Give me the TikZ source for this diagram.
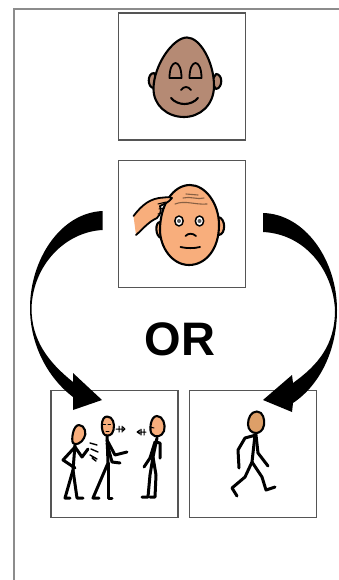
\documentclass[tikz,border=0pt]{standalone}
\usepackage{fontspec}
\setmainfont{Liberation Sans}
\definecolor{skinA}{HTML}{B58A74}
\definecolor{skinB}{HTML}{F8AE7C}
\definecolor{skinC}{HTML}{DD9F68}
\definecolor{frameG}{HTML}{8C8C8C}
\definecolor{boxG}{HTML}{555555}
\tikzset{
  card/.style={draw=boxG,line width=1.7pt,fill=white,minimum width=127pt,minimum height=127pt,inner sep=0pt,outer sep=0pt},
  ink/.style={draw=black,line width=2.1pt,line cap=round,line join=round},
  limb/.style={draw=black,line width=3pt,line cap=round,line join=round},
  fine/.style={draw=black,line width=1pt,line cap=round},
  wrinkle/.style={draw=skinB!55!black,line width=1.1pt,line cap=round},
  page/.style={draw=frameG,line width=1.6pt},
  bigarrow/.style={fill=black,draw=none},
  wordor/.style={font=\bfseries\fontsize{47}{47}\selectfont,inner sep=0pt}
}
\begin{document}
\begin{tikzpicture}[x=1pt,y=-1pt]
\useasboundingbox (0,0) rectangle (339,580);
\fill[white] (0,0) rectangle (339,580);
\coordinate (ftl) at (14,9);
\coordinate (ftr) at (339,9);
\coordinate (fbl) at (14,580);
\draw[page] (ftr) -- (ftl) -- (fbl);
\node[card] (calm) at (182,76.5) {};
\node[card] (think) at (182,224) {};
\node[card] (people) at (114.5,454) {};
\node[card] (walk) at (253,454) {};
\node[wordor] (or) at (180,339) {OR};
% calm face
\draw[ink,fill=skinA] (154,73) .. controls (147,73) and (147,88) .. (154,88) -- (158,80) -- cycle;
\draw[ink,fill=skinA] (216,74) .. controls (223,74) and (223,88) .. (216,89) -- (211,82) -- cycle;
\draw[ink,fill=skinA] (187,37.5) .. controls (200,37.5) and (214,62) .. (214,86)
  .. controls (214,105) and (200,117) .. (184,117) .. controls (167,117) and (153,105) .. (153.5,88)
  .. controls (154,65) and (173,37.5) .. (187,37.5) -- cycle;
\draw[ink,line width=1.8pt] (169.5,78) .. controls (169.5,58) and (181.5,58) .. (181.5,78) -- cycle;
\draw[ink,line width=1.8pt] (189.5,78) .. controls (189.5,58) and (201.5,58) .. (201.5,78) -- cycle;
\draw[ink,line width=1.8pt] (181,90) .. controls (184,86) and (188,86) .. (191,90);
\draw[ink] (171,98) .. controls (178,106) and (191,106) .. (198,98);
% thinking face
\draw[ink,fill=skinB] (160,222) .. controls (155,222) and (155,236) .. (161,238) -- (165,230) -- cycle;
\draw[ink,fill=skinB] (218,217) .. controls (226,218) and (226,234) .. (219,235) -- (214,226) -- cycle;
\draw[ink,fill=skinB] (190,185) .. controls (205,185) and (219,203) .. (219,225)
  .. controls (219,250) and (205,265) .. (189,265) .. controls (172,265) and (160,247) .. (160,230)
  .. controls (160,205) and (173,185) .. (190,185) -- cycle;
\fill[skinB] (133.5,216) .. controls (142,205) and (150,198) .. (164,197.5)
  .. controls (168,197) and (171,197) .. (172,198) .. controls (168,203) and (164,204) .. (160,206)
  .. controls (162,212) and (160,214) .. (157,218) .. controls (148,222) and (142,230) .. (136,235) -- cycle;
\draw[ink,line width=1.8pt] (133.5,216) .. controls (142,205) and (150,198) .. (164,197.5)
  .. controls (168,197) and (171,197) .. (172,198) .. controls (168,203) and (164,204) .. (160,206)
  .. controls (162,212) and (160,214) .. (157,218) .. controls (148,222) and (142,230) .. (136,235);
\draw[fine] (158,204) -- (166,202) (159,209) -- (164,208) (158,214) -- (162,213);
\draw[wrinkle] (175,204) .. controls (185,200) and (195,205) .. (207,204);
\draw[wrinkle] (183,198) .. controls (190,196) and (198,200) .. (204,198);
\draw[wrinkle] (186,194) -- (198,195);
\draw[ink,line width=1.5pt,fill=white] (179,221) ellipse (4.2pt and 5pt);
\draw[ink,line width=1.5pt,fill=white] (199.5,221) ellipse (4.2pt and 5pt);
\fill[black!65] (179,221) circle (2pt) (199.5,221) circle (2pt);
\draw[ink,line width=1.8pt] (185.5,236) .. controls (188,233) and (193,233) .. (196,236);
\draw[ink,line width=1.8pt] (180.5,247) .. controls (187,248.5) and (194,248.5) .. (200,247);
% three people
\draw[limb] (75,445) -- (73,470) -- (65,498) -- (70,498);
\draw[limb] (73,470) -- (77,498) -- (83,498);
\draw[limb] (75,447) -- (63,460) -- (75,468);
\draw[limb] (75,447) -- (82,457) -- (88,449);
\draw[ink,fill=skinB] (79,425) .. controls (85,425) and (87,434) .. (84,438) .. controls (82,443) and (75,446) .. (73,443) .. controls (71,440) and (73,425) .. (79,425) -- cycle;
\draw[fine,line width=1.4pt] (90,443) -- (97,445) (91,449) -- (98,452) (90,455) -- (97,459) (92,458) -- (96,461);
\draw[limb] (107,435) -- (108,463) -- (93,498) -- (99,498);
\draw[limb] (108,463) -- (108,498) -- (112,498);
\draw[limb] (107,440) -- (115,455) -- (127,452);
\draw[limb] (107,443) -- (112,462) -- (120,463);
\draw[ink,fill=skinB] (107,416.5) .. controls (113,416.5) and (115,424) .. (113.5,430) .. controls (112,436) and (108,436) .. (105,435) .. controls (101,433) and (100,416.5) .. (107,416.5) -- cycle;
\draw[fine] (103,424) -- (105.5,424) (108,424) -- (110.5,424) (106,431) -- (109,431);
\draw[fine] (116,429) -- (125,429) (119,426) -- (119,432) (122,426) -- (122,432) (125,429) -- (123,427) (125,429) -- (123,431);
\draw[fine] (137,432) -- (146,432) (141,429) -- (141,435) (144,429) -- (144,435) (137,432) -- (140,430) (137,432) -- (140,434);
\draw[limb] (157,438) -- (153,457) -- (150,475) -- (148,497) -- (142,497);
\draw[limb] (153,457) -- (156,475) -- (155,497) -- (150,497);
\draw[limb] (155,442) -- (160,443) -- (160,458);
\draw[limb] (155,442) -- (150,458) -- (144,467);
\draw[ink,fill=skinB] (157,416) .. controls (163,416) and (166,425) .. (164,431) .. controls (162,437) and (155,438) .. (152,434) .. controls (149,432) and (150,416) .. (157,416) -- cycle;
\draw[fine] (150,427) -- (154,428);
% walker
\draw[limb] (256,435) -- (245,438) -- (238,450) -- (239,468);
\draw[limb] (256,435) -- (258,453) -- (268,466);
\draw[limb] (255,435) -- (252,462) -- (245,477) -- (232,488) -- (237,496);
\draw[limb] (252,462) -- (262,477) -- (266,490) -- (275,487);
\draw[ink,fill=skinC] (257,411.5) .. controls (263,411.5) and (265,420) .. (264,425) .. controls (263,431) and (259,433) .. (256,433) .. controls (252,433) and (248,430) .. (248,424) .. controls (248,418) and (251,411.5) .. (257,411.5) -- cycle;
% arrows
\path[bigarrow] (102.5,211) .. controls (60,213) and (30,260) .. (30,308)
  .. controls (30,345) and (48,378) .. (73,397) -- (73,410) -- (102,400) -- (73,373) -- (73,382)
  .. controls (48,362) and (31.5,340) .. (31.5,308) .. controls (33,265) and (65,232) .. (102.5,230) -- cycle;
\path[bigarrow] (263,213) .. controls (305,214) and (337,260) .. (337,310)
  .. controls (337,350) and (320,385) .. (293,403) -- (292,412) -- (263,400) -- (292,375) -- (293,383)
  .. controls (318,365) and (335,345) .. (335,310) .. controls (333,270) and (305,234) .. (263,232) -- cycle;
\end{tikzpicture}
\end{document}
